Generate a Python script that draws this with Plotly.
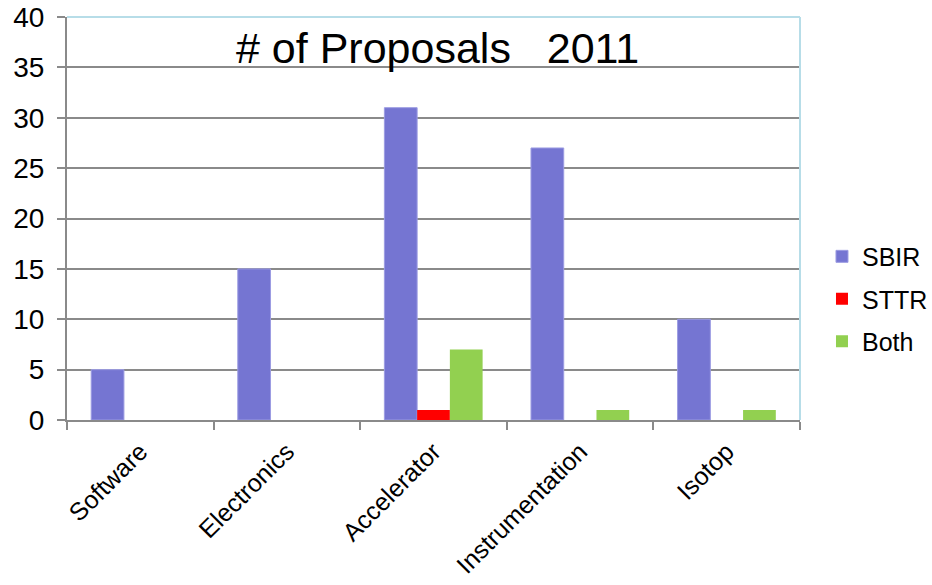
import plotly.graph_objects as go

categories = ["Software", "Electronics", "Accelerator", "Instrumentation", "Isotop"]
sbir = [5, 15, 31, 27, 10]
sttr = [0, 0, 1, 0, 0]
both = [0, 0, 7, 1, 1]
y_ticks = [0, 5, 10, 15, 20, 25, 30, 35, 40]
title_text = "# of Proposals\u00a0\u00a0\u00a02011"

FONT = "Liberation Sans, Arial, sans-serif"
GRID = "#8a8a8a"

fig = go.Figure()
series = [("SBIR", sbir, "#7575d2", "#9c9ce2", 1),
          ("STTR", sttr, "#ff0000", "#ff0000", 0),
          ("Both", both, "#92d050", "#92d050", 0)]
for name, vals, col, edge, lw in series:
    fig.add_trace(go.Bar(
        name=name, x=categories, y=vals,
        marker=dict(color=col, line=dict(color=edge, width=lw)),
        legendgroup=name,
    ))

fig.update_layout(
    width=932, height=585,
    margin=dict(l=67, r=132, t=17, b=165, autoexpand=False),
    paper_bgcolor="white", plot_bgcolor="white",
    barmode="group", bargap=0.33, bargroupgap=0,
    font=dict(family=FONT, size=25, color="black"),
    showlegend=True,
    legend=dict(x=1.03, xanchor="left", y=0.30, yanchor="middle",
                font=dict(size=25), tracegroupgap=7,
                bgcolor="rgba(0,0,0,0)"),
    xaxis=dict(
        showgrid=False, showline=True, linecolor=GRID, linewidth=2,
        ticks="outside", tickson="boundaries", ticklen=8, tickwidth=2,
        tickcolor=GRID, tickangle=-45, ticklabelstandoff=5,
        tickfont=dict(size=25), automargin=False,
    ),
    yaxis=dict(
        range=[0, 40], tickvals=y_ticks,
        showgrid=True, gridcolor=GRID, gridwidth=1.5,
        showline=True, linecolor=GRID, linewidth=2,
        ticks="outside", ticklen=8, tickwidth=2, tickcolor=GRID,
        ticklabelstandoff=7, zeroline=False,
        tickfont=dict(size=28), automargin=False,
    ),
    annotations=[dict(
        text=title_text, xref="paper", yref="paper", x=0.505, y=0.923,
        xanchor="center", yanchor="middle", showarrow=False,
        font=dict(size=43, family=FONT, color="black"),
    )],
    shapes=[
        dict(type="line", xref="paper", yref="paper", x0=0, x1=1, y0=1, y1=1,
             line=dict(color="#b7dde8", width=2), layer="above"),
        dict(type="line", xref="paper", yref="paper", x0=1, x1=1, y0=0, y1=1,
             line=dict(color="#b7dde8", width=2), layer="above"),
    ],
)

fig.write_html("out.html", config={"displayModeBar": False},
               post_script="document.body.style.margin='0';")
